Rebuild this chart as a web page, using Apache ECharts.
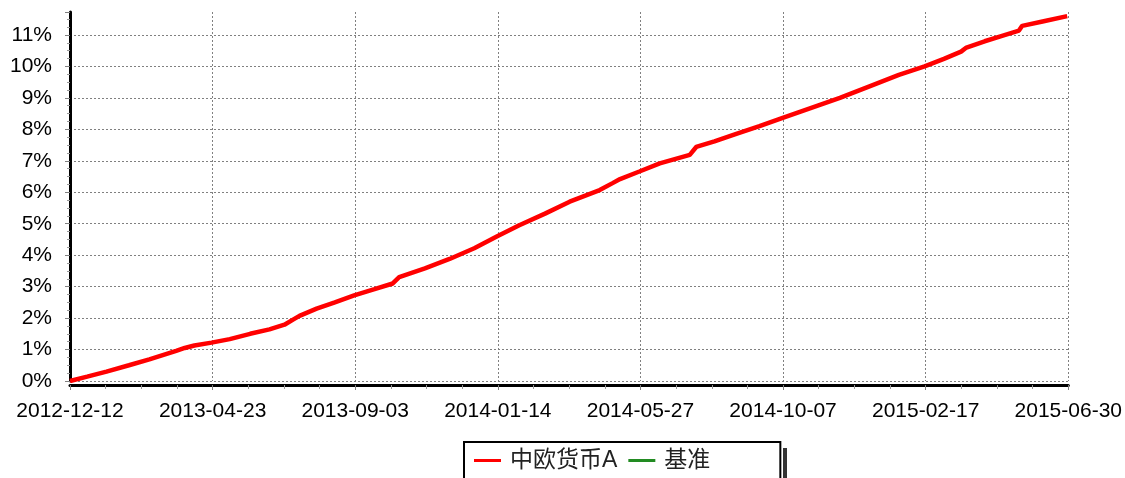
<!DOCTYPE html>
<html>
<head>
<meta charset="utf-8">
<script src="https://cdn.jsdelivr.net/npm/echarts@6/dist/echarts.min.js"></script>
<style>html,body{margin:0;padding:0;background:#fff;}#c{width:1125px;height:478px;}</style>
</head>
<body>
<div id="c"></div>
<script>
const startDate = '2012-12-12';
const tickLabels = ['2012-12-12','2013-04-23','2013-09-03','2014-01-14','2014-05-27','2014-10-07','2015-02-17','2015-06-30'];
const dates = ['2012-12-12','2012-12-28','2013-01-15','2013-02-05','2013-02-24','2013-03-21','2013-03-29','2013-04-07','2013-04-23','2013-05-10','2013-05-29','2013-06-16','2013-06-30','2013-07-08','2013-07-14','2013-07-30','2013-08-16','2013-09-03','2013-09-22','2013-10-09','2013-10-15','2013-11-08','2013-12-01','2013-12-24','2014-01-14','2014-02-04','2014-02-28','2014-03-23','2014-04-20','2014-05-02','2014-05-09','2014-05-27','2014-06-15','2014-07-13','2014-07-19','2014-08-05','2014-08-24','2014-09-16','2014-10-07','2014-11-02','2014-11-30','2014-12-27','2015-01-24','2015-02-17','2015-03-07','2015-03-23','2015-03-28','2015-04-14','2015-04-28','2015-05-16','2015-05-19','2015-06-07','2015-06-30'];
const fundValues = [0.00,0.14,0.30,0.50,0.69,0.96,1.05,1.13,1.22,1.33,1.50,1.64,1.79,1.95,2.07,2.30,2.50,2.72,2.92,3.10,3.30,3.58,3.88,4.22,4.59,4.95,5.32,5.70,6.07,6.29,6.42,6.66,6.92,7.19,7.44,7.62,7.84,8.10,8.36,8.67,9.00,9.36,9.73,10.00,10.24,10.47,10.60,10.80,10.95,11.14,11.29,11.43,11.60];
const benchValues = [];
const seriesNames = ['中欧货币A','基准'];

const DAY = 86400000;
function dayIndex(s){ const p = s.split('-').map(Number); const q = startDate.split('-').map(Number); return Math.round((Date.UTC(p[0],p[1]-1,p[2]) - Date.UTC(q[0],q[1]-1,q[2]))/DAY); }
const fundData = dates.map((d,i)=>[dayIndex(d), fundValues[i]]);
const TICK_STEP = 133;

const chart = echarts.init(document.getElementById('c'));
const font = '"Liberation Sans", Arial, "Noto Sans CJK SC", sans-serif';
chart.setOption({
  backgroundColor: '#fff',
  animation: false,
  grid: { left: 70, right: 56, top: 12, bottom: 97, containLabel: false },
  xAxis: {
    type: 'value', min: 0, max: TICK_STEP * 7, interval: TICK_STEP,
    offset: 4,
    axisLine: { show: true, onZero: false, lineStyle: { color: '#000', width: 3 } },
    axisTick: { show: true, length: 5, lineStyle: { color: '#808080', width: 1 } },
    minorTick: { show: true, splitNumber: 4, length: 4, lineStyle: { color: '#999', width: 1 } },
    axisLabel: { margin: 16, color: '#000', fontSize: 21, fontFamily: font,
      formatter: v => tickLabels[Math.round(v / TICK_STEP)] || '' },
    splitLine: { show: true, showMinLine: true, showMaxLine: true, lineStyle: { color: '#808080', width: 1, type: [2, 2] } }
  },
  yAxis: {
    type: 'value', min: 0, max: 11.73, interval: 1,
    offset: 4,
    axisLine: { show: true, lineStyle: { color: '#000', width: 3 } },
    axisTick: { show: true, length: 5, lineStyle: { color: '#808080', width: 1 } },
    minorTick: { show: true, splitNumber: 4, length: 3, lineStyle: { color: '#999', width: 1 } },
    axisLabel: { margin: 14, color: '#000', fontSize: 21, fontFamily: font, showMaxLabel: false,
      formatter: v => Math.round(v) + '%' },
    splitLine: { show: true, showMaxLine: false, lineStyle: { color: '#808080', width: 1, type: [2, 2] } }
  },
  legend: {
    left: 464, top: 442,
    orient: 'horizontal',
    data: seriesNames,
    icon: 'rect', itemWidth: 27, itemHeight: 3, itemGap: 11,
    padding: [7, 70, 7, 10],
    backgroundColor: '#fff', borderColor: '#000', borderWidth: 2,
    textStyle: { fontSize: 23, color: '#222', fontFamily: font, padding: [0, 0, 0, 4] }
  },
  graphic: [
    { type: 'rect', shape: { x: 783, y: 448, width: 4, height: 30 }, style: { fill: '#333' }, z: 0 }
  ],
  series: [
    { name: seriesNames[0], type: 'line', data: fundData, symbol: 'none', color: '#ff0000',
      lineStyle: { color: '#ff0000', width: 4.5 }, z: 5 },
    { name: seriesNames[1], type: 'line', data: benchValues, symbol: 'none', color: '#228b22',
      lineStyle: { color: '#228b22', width: 2 } }
  ]
});
</script>
</body>
</html>
